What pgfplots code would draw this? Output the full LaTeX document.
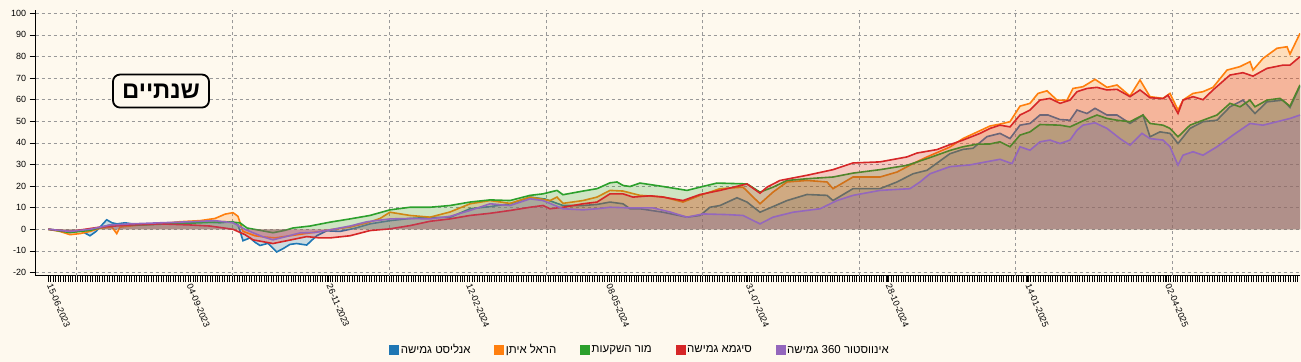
\documentclass[border=0pt]{standalone}
\usepackage{fontspec}
\setmainfont{Liberation Sans}
\newfontfamily\hebfont[Script=Hebrew]{Liberation Sans}
\usepackage{pgfplots}
\pgfplotsset{compat=1.18}
\usepackage{pgfplotstable}
\TeXXeTstate=1
\definecolor{bgc}{HTML}{FEF9EE}
\definecolor{cA}{HTML}{1F77B4}
\definecolor{cB}{HTML}{FF7F0E}
\definecolor{cC}{HTML}{2CA02C}
\definecolor{cD}{HTML}{D62728}
\definecolor{cE}{HTML}{9467BD}

% x = position along the time axis (trading-day scale), y = cumulative return %
\pgfplotstableread{
x y
48.3 0
60 -0.5
70 -1.5
80 -0.5
90 -3
96 -1
100 1
106.7 4.4
112 3
117 2.5
125 3
140 2
160 2.5
180 3
200 3.5
220 3
233 3.5
238 2
243 -5.3
250 -4
255 -6
260 -7.5
268 -6.5
276.7 -10.5
283 -9
290 -7
296.7 -6.6
306.7 -7.3
312 -5
316.7 -3
326.7 -0.7
340 -1
355 0.5
370 2.5
390 4
410 5
430 5.5
450 5.5
470 9.5
490 10.5
510 11.8
530 14.9
545 14
563 11
583 11
597 11.5
610 12.6
623 11.8
630 9.5
640 9.5
663 7.9
687 5.6
700 6.4
710 10.2
720 11
737 14.6
747 12.6
760 7.9
773 10.5
787 13.3
807 16.1
827 15.7
833 13.3
853 18.8
880 18.8
897 21.9
913 25.7
927 27.3
950 35
963 37
973 37.5
987 42.9
1000 44.4
1010 42
1020 48.2
1030 49
1040 52.9
1048 52.9
1060 50.8
1070 50.5
1077 55.2
1087 53.6
1095 56
1107 52.9
1117 52.9
1130 49
1143 52.9
1150 42.8
1160 45.1
1170 44.4
1178 39.7
1190 46.7
1203 49.8
1217 50.5
1230 56.7
1243 59.8
1255 53.6
1267 59
1283 59.8
1290 56.4
1300 66.3
}\tblA

\pgfplotstableread{
x y
48.3 0
60 -1
70 -2.5
80 -2
90 -1
100 0.5
112 1
116.7 -2
120 1
140 2
160 2.5
180 3.5
200 4
215 5
225 7
233 7.7
238 6
243 -1
255 -3
263 -3.5
275 -4
290 -3
305 -2
320 -1
333 0
350 1
367 2.9
380 5
390 7.9
410 6.4
430 5.6
450 8
470 11.8
490 13.3
510 12
530 14.9
550 13.3
557 14.9
563 12
583 13.3
597 14.9
610 18
623 17.7
640 15.7
663 15
683 12.6
700 15.7
720 18.8
743 19.5
760 11.8
773 17.2
787 21.9
807 22.6
827 21.9
833 18.8
853 24.2
880 24.2
897 26.5
913 30.4
927 33.5
950 38.1
963 42
977 45
990 47.8
1000 48.7
1010 49.8
1020 57
1030 58.3
1038 62.9
1047 64.1
1057 59.8
1067 59.8
1073 65.2
1083 66
1095 69.4
1107 65.7
1117 66.8
1130 61.7
1140 69.1
1150 61.4
1163 60.6
1170 62.9
1178 55.2
1183 59.8
1193 62.9
1203 63.7
1213 65.7
1227 73.7
1240 75.3
1250 77.6
1253 73.7
1263 79.1
1277 83.8
1287 84.5
1290 81.1
1300 90.7
}\tblB

\pgfplotstableread{
x y
48.3 0
70 -1.5
90 -0.5
110 2
140 2
170 2.5
200 3
225 3.5
240 3
247 0.6
260 -0.5
273 -1.6
285 -0.5
293 0.6
310 1.5
320 2.4
330 3.3
350 4.8
370 6.4
390 9
410 10.2
430 10.2
450 11
470 12.6
490 13.6
510 13.3
530 15.7
543 16.4
557 18
563 16
583 17.7
597 18.8
610 21.5
617 21.9
623 20.3
630 19.8
640 21.4
663 19.8
687 18
700 19.5
717 21.4
747 21
760 17.2
773 19.5
787 22.6
807 23.4
833 24.2
853 26
880 27.6
907 29.6
927 32.7
950 36.5
963 38.2
977 39.4
990 39.5
1000 40.5
1010 38.2
1020 43.6
1030 45.1
1040 48.5
1060 48.2
1070 47.4
1083 50.2
1097 52.9
1107 51.3
1117 50.5
1130 49.8
1143 52.9
1150 49
1163 48.2
1170 46.7
1178 42.8
1190 48.2
1203 50.5
1217 52.9
1230 58.3
1240 56.7
1250 59.8
1255 56.7
1267 59.8
1280 60.6
1290 57
1300 66.8
}\tblC

\pgfplotstableread{
x y
48.3 0
70 -1
100 1
130 2
160 2.5
190 2
210 1.5
233 0
245 -2.5
253 -4.9
273 -6.6
290 -5
306.7 -3.4
320 -4
330 -4
350 -3
370 -0.6
390 0.2
410 1.7
430 3.7
450 4.8
470 6.4
490 7.4
510 8.7
530 10.2
543 11
550 9.5
563 10.2
583 11.8
597 12.6
610 16.4
623 16.4
633 14.9
650 15.5
663 14.9
683 13.3
700 16.1
720 18
747 21
760 16.7
767 19.5
780 22.6
807 25
833 27.6
853 30.7
880 31.2
907 33.5
917 35.3
937 36.9
950 39.2
963 41.3
980 44.4
990 46.7
1000 48.2
1010 47.4
1020 52.9
1030 55.2
1040 59.8
1050 60.6
1060 58.3
1070 59.8
1077 63.7
1087 65.2
1097 65.7
1107 64.5
1117 64.8
1130 61.4
1140 64.5
1150 60.9
1163 60.5
1168 62.1
1178 53.6
1183 59.8
1193 61.4
1203 60
1213 64.5
1230 71.4
1243 72.5
1253 70.9
1267 74.5
1283 76
1290 76
1300 79.9
}\tblD

\pgfplotstableread{
x y
48.3 0
70 -1
90 0
110 2
130 2.5
160 3
190 3.5
215 4
233 3
245 0
253 -1.6
263 -3.5
273 -4.9
285 -3.5
300 -1.7
315 -1.5
333 0
350 1.5
367 3.5
390 4.8
410 5
430 4.8
450 6
470 8.7
490 11.8
510 11
530 14.1
543 13.3
563 9.5
583 9
597 9.5
610 10.2
630 9.9
653 9.9
670 8
687 5.6
703 7.1
727 6.8
743 6.4
760 2.5
773 5.6
793 7.9
820 9.5
837 13.3
853 15.7
880 18
910 18.8
920 21.9
930 25.7
950 29
970 29.8
987 31.3
1000 32.4
1012 30.4
1020 38.2
1030 36.6
1040 40.5
1050 41.3
1060 39.7
1070 41.3
1077 45.9
1083 48.2
1095 49.3
1107 46.7
1120 42
1130 38.9
1142 44.4
1150 42
1163 41.3
1170 38.2
1178 29.7
1183 34.3
1193 35.9
1203 34.3
1217 38.2
1233 43.6
1250 49
1263 48.2
1277 49.8
1290 51.3
1300 52.9
}\tblE

\pgfplotsset{
  sqA/.style={legend image code/.code={\fill[cA] (0bp,-4.5bp) rectangle (9bp,4.5bp);}},
  sqB/.style={legend image code/.code={\fill[cB] (0bp,-4.5bp) rectangle (9bp,4.5bp);}},
  sqC/.style={legend image code/.code={\fill[cC] (0bp,-4.5bp) rectangle (9bp,4.5bp);}},
  sqD/.style={legend image code/.code={\fill[cD] (0bp,-4.5bp) rectangle (9bp,4.5bp);}},
  sqE/.style={legend image code/.code={\fill[cE] (0bp,-4.5bp) rectangle (9bp,4.5bp);}},
}

\begin{document}
\begin{tikzpicture}
\fill[bgc] (-35.7bp,-86.5bp) rectangle (1265.3bp,275.5bp);
\begin{axis}[
  name=ax, at={(0,0)}, anchor=south west,
  x=1bp, y=2.16bp,
  xmin=35.7, xmax=1300, ymin=-21.4, ymax=101.5,
  axis x line*=bottom, axis y line*=left,
  axis line style={black, line width=0.8bp},
  tick align=outside,
  xtick={48.3,188.1,327.9,467.7,607.5,747.3,887.1,1026.9,1166.7},
  xticklabels={15-06-2023,04-09-2023,26-11-2023,12-02-2024,08-05-2024,31-07-2024,28-10-2024,14-01-2025,02-04-2025},
  minor xtick={48.3,50.75,...,1300},
  ytick={-20,-10,...,100},
  yticklabels={-20,-10,0,10,20,30,40,50,60,70,80,90,100},
  major tick length=6bp, minor tick length=6bp,
  tick style={black, line width=0.7bp},
  ymajorgrids=true,
  grid style={dash pattern=on 3bp off 3bp, black!40, line width=0.5bp},
  extra x ticks={76,232.7,389.3,545.8,702.4,858.9,1015.5,1172},
  extra x tick labels={,,,,,,,},
  extra x tick style={grid=major, major tick length=0pt},
  xticklabel style={rotate=-67, anchor=west, font=\fontsize{9}{10}\selectfont},
  yticklabel style={font=\fontsize{9}{10}\selectfont},
  legend columns=5,
  legend style={draw=none, fill=none, at={(0.478,-0.28)}, anchor=center,
    font=\hebfont\fontsize{11.5}{13}\selectfont,
    /tikz/every even column/.append style={column sep=22bp}},
]
\addplot[draw=none, fill=cA, fill opacity=0.22, forget plot] table[x=x,y=y]{\tblA} \closedcycle;
\addplot[cA, line width=1.6bp, forget plot] table[x=x,y=y]{\tblA};
\addplot[draw=none, fill=cB, fill opacity=0.22, forget plot] table[x=x,y=y]{\tblB} \closedcycle;
\addplot[cB, line width=1.6bp, forget plot] table[x=x,y=y]{\tblB};
\addplot[draw=none, fill=cC, fill opacity=0.22, forget plot] table[x=x,y=y]{\tblC} \closedcycle;
\addplot[cC, line width=1.6bp, forget plot] table[x=x,y=y]{\tblC};
\addplot[draw=none, fill=cD, fill opacity=0.22, forget plot] table[x=x,y=y]{\tblD} \closedcycle;
\addplot[cD, line width=1.6bp, forget plot] table[x=x,y=y]{\tblD};
\addplot[draw=none, fill=cE, fill opacity=0.22, forget plot] table[x=x,y=y]{\tblE} \closedcycle;
\addplot[cE, line width=1.6bp, forget plot] table[x=x,y=y]{\tblE};

\addlegendimage{sqA}\addlegendentry{\beginR אנליסט גמישה\endR}
\addlegendimage{sqB}\addlegendentry{\beginR הראל איתן\endR}
\addlegendimage{sqC}\addlegendentry{\beginR מור השקעות\endR}
\addlegendimage{sqD}\addlegendentry{\beginR סיגמא גמישה\endR}
\addlegendimage{sqE}\addlegendentry{\beginR אינווסטור 360 גמישה\endR}

\node[draw=black, line width=1.8bp, rounded corners=7bp, fill=bgc,
  inner xsep=6bp, inner ysep=4bp, minimum width=96bp, minimum height=33bp,
  font=\hebfont\bfseries\fontsize{24}{26}\selectfont]
  at (axis cs:161,64) {\beginR שנתיים\endR};
\end{axis}
\pgfresetboundingbox
\path (-35.7bp,-86.5bp) rectangle (1265.3bp,275.5bp);
\end{tikzpicture}
\end{document}
